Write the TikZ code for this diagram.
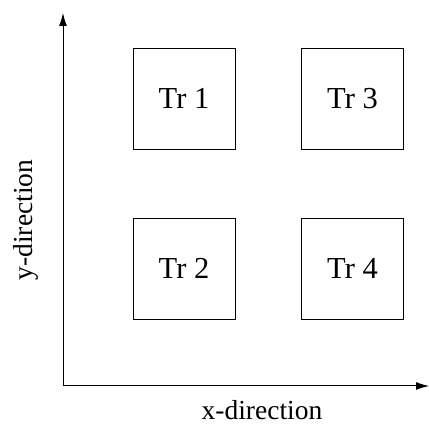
\documentclass[tikz,border=0pt]{standalone}
\usepackage{fontspec}
\setmainfont{Liberation Serif}
\usepackage{tikz}
\usetikzlibrary{arrows.meta}
\tikzset{
	tr box/.style={draw=black, line width=0.9pt, minimum width=102pt, minimum height=101pt, inner sep=0pt, font=\fontsize{30.5}{34}\selectfont},
	axis label/.style={font=\fontsize{27.5}{31}\selectfont, inner sep=0pt},
	axis/.style={line width=1pt, -{Latex[length=13pt, width=8pt]}},
}

\begin{document}
\begin{tikzpicture}[x=1pt, y=1pt]
				\useasboundingbox (0,0) rectangle (429,426);
				\coordinate (o) at (63,40);
				\coordinate (xend) at (429,40);
				\coordinate (yend) at (63,413);
				\draw[axis] (o) -- (xend);
				\draw[axis] (o) -- (yend);
				\node[tr box] (tr1) at (184,327.5) {Tr 1};
				\node[tr box] (tr3) at (352.5,327.5) {Tr 3};
				\node[tr box] (tr2) at (184,157.5) {Tr 2};
				\node[tr box] (tr4) at (352.5,157.5) {Tr 4};
				\node[axis label] (xlab) at (262,16) {x-direction};
				\node[axis label, rotate=90] (ylab) at (26,206) {y-direction};
			\end{tikzpicture}
\end{document}
